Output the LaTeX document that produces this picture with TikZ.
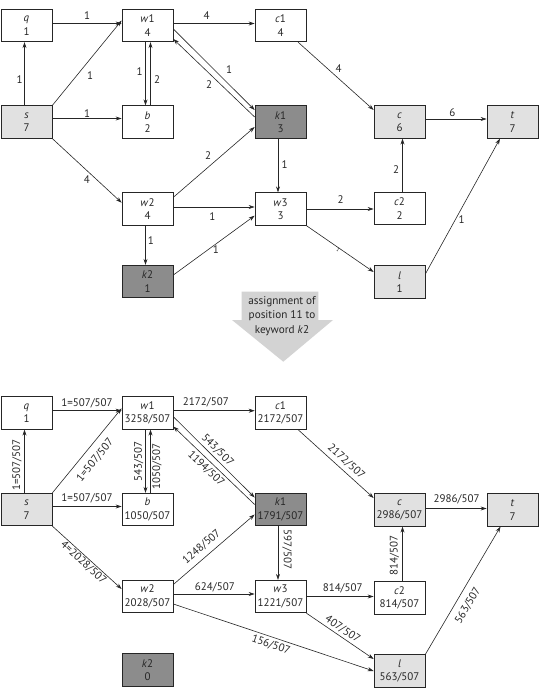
\documentclass[tikz,border=0pt]{standalone}
\usepackage{fontspec}
\setmainfont{PT Sans}
\usetikzlibrary{arrows.meta}
\definecolor{lightbox}{HTML}{E1E1E1}
\definecolor{darkbox}{HTML}{8C8C8C}
\definecolor{ink}{HTML}{262626}
\definecolor{banner}{HTML}{D3D3D3}

\begin{document}
\begin{tikzpicture}[x=1pt,y=-1pt,
  every node/.style={font=\fontsize{11}{13.5}\selectfont, text=ink},
  vbox/.style={draw=ink, line width=0.7pt, minimum width=51pt, minimum height=32.5pt,
               inner sep=0pt, align=center, fill=white},
  litebox/.style={vbox, fill=lightbox},
  darkvbox/.style={vbox, fill=darkbox},
  edge/.style={draw=ink, line width=0.6pt, -{Stealth[length=6pt,width=4pt]}},
  lbl/.style={inner sep=0pt}]

\useasboundingbox (0,0) rectangle (543,693);

% ---------- network before the assignment ----------
\node[vbox]     (q)  at (26.5,25.5)  {\textit{q}\\1};
\node[vbox]     (w1) at (147.5,25.5) {\textit{w}1\\4};
\node[vbox]     (c1) at (280.5,25.5) {\textit{c}1\\4};
\node[litebox]  (s)  at (26.5,122)   {\textit{s}\\7};
\node[vbox]     (b)  at (147.5,122)  {\textit{b}\\2};
\node[darkvbox] (k1) at (280.5,122)  {\textit{k}1\\3};
\node[litebox]  (c)  at (399.5,122)  {\textit{c}\\6};
\node[litebox]  (t)  at (512.5,122)  {\textit{t}\\7};
\node[vbox]     (w2) at (147.5,209)  {\textit{w}2\\4};
\node[vbox]     (w3) at (280.5,209)  {\textit{w}3\\3};
\node[vbox]     (c2) at (399.5,208.5){\textit{c}2\\2};
\node[darkvbox] (k2) at (147.5,281.5){\textit{k}2\\1};
\node[litebox]  (l)  at (399.5,282)  {\textit{l}\\1};

\draw[edge] ([yshift=2pt]q.east) -- node[lbl,pos=.5,yshift=7.6pt]{1} ([yshift=2pt]w1.west);
\draw[edge] ([yshift=2pt]w1.east) -- node[lbl,pos=.41,yshift=7.6pt]{4} ([yshift=2pt]c1.west);
\draw[edge] ([xshift=-2pt]s.north) -- node[lbl,pos=.4,xshift=-5pt]{1} ([xshift=-2pt]q.south);
\draw[edge] (s.north east) -- node[lbl,pos=.4,xshift=10pt,yshift=-4.2pt]{1} ([yshift=5pt]w1.west);
\draw[edge] ([yshift=3.5pt]s.east) -- node[lbl,pos=.5,yshift=5pt]{1} ([yshift=3.5pt]b.west);
\draw[edge] ([xshift=-2pt]w1.south) -- node[lbl,pos=.46,xshift=-6pt]{1} ([xshift=-2pt]b.north);
\draw[edge] ([xshift=3pt]b.north) -- node[lbl,pos=.4,xshift=6.5pt]{2} ([xshift=3pt]w1.south);
\draw[edge] ([yshift=-3.5pt]w1.east) -- node[lbl,pos=.6,xshift=7pt,yshift=7.6pt]{1} ([yshift=12pt]k1.west);
\draw[edge] ([yshift=5pt]k1.west) -- node[lbl,pos=.49,xshift=-5.8pt,yshift=-6pt]{2} ([yshift=-13.5pt]w1.east);
\draw[edge] ([xshift=17.5pt]c1.south) -- node[lbl,pos=.47,xshift=5pt,yshift=5pt]{4} ([yshift=12pt]c.west);
\draw[edge] ([yshift=3pt]c.east) -- node[lbl,pos=.44,yshift=6.7pt]{6} ([yshift=3pt]t.west);
\draw[edge] ([xshift=-2.5pt]k1.south) -- node[lbl,pos=.48,xshift=6.7pt]{1} ([xshift=-2.5pt]w3.north);
\draw[edge] (w3.east) -- node[lbl,pos=.51,yshift=9pt]{2} (w3.east -| c2.west);
\draw[edge] ([xshift=3pt]c2.north) -- node[lbl,pos=.42,xshift=-6.3pt]{2} ([xshift=3pt]c.south);
\draw[edge] (w3.south east) -- node[lbl,pos=.49,sloped,yshift=-2pt,font=\fontsize{5}{6}\selectfont]{1} ([yshift=10pt]l.west);
\draw[edge] ([yshift=8pt]l.east) -- node[lbl,pos=.42,xshift=4.8pt,yshift=-2.1pt]{1} ([xshift=-12.5pt]t.south);
\draw[edge] (s.south east) -- node[lbl,pos=.56,xshift=-4.3pt,yshift=-4.7pt]{4} ([yshift=6.3pt]w2.west);
\draw[edge] ([yshift=11.7pt]w2.east) -- node[lbl,pos=.5,xshift=-6pt,yshift=7pt]{2} ([yshift=-5pt]k1.west);
\draw[edge] ([yshift=2pt]w2.east) -- node[lbl,pos=.48,yshift=-10pt]{1} ([yshift=2pt]w3.west);
\draw[edge] ([xshift=-2pt]w2.south) -- node[lbl,pos=.39,xshift=5.3pt]{1} ([xshift=-2pt]k2.north);
\draw[edge] ([yshift=6.5pt]k2.east) -- node[lbl,pos=.49,xshift=2.8pt,yshift=-4pt]{1} ([yshift=-6.7pt]w3.west);

% ---------- transition arrow ----------
\fill[banner] (241.7,291.7) -- (318.3,291.7) -- (318.3,320) -- (333,320)
  -- (283.3,361.7) -- (232,320) -- (241.7,320) -- cycle;
\node[align=center, inner sep=0pt, font=\fontsize{11.2}{14.2}\selectfont] (note) at (282,316)
  {assignment of\\position 11 to\\keyword \textit{k}2};

% ---------- network after the assignment ----------
\node[vbox]     (qB)  at (26.5,413)   {\textit{q}\\1};
\node[vbox]     (w1B) at (147.5,413)  {\textit{w}1\\3258/507};
\node[vbox]     (c1B) at (280.5,413)  {\textit{c}1\\2172/507};
\node[litebox]  (sB)  at (26.5,509.5) {\textit{s}\\7};
\node[vbox]     (bB)  at (147.5,509.5){\textit{b}\\1050/507};
\node[darkvbox] (k1B) at (280.5,509.5){\textit{k}1\\1791/507};
\node[litebox]  (cB)  at (399.5,510)  {\textit{c}\\2986/507};
\node[litebox]  (tB)  at (512.5,510)  {\textit{t}\\7};
\node[vbox]     (w2B) at (147.5,596.5){\textit{w}2\\2028/507};
\node[vbox]     (w3B) at (280.5,596.5){\textit{w}3\\1221/507};
\node[vbox]     (c2B) at (399.5,598)  {\textit{c}2\\814/507};
\node[darkvbox] (k2B) at (147.5,670)  {\textit{k}2\\0};
\node[litebox]  (lB)  at (399.5,671)  {\textit{l}\\563/507};

\draw[edge] ([yshift=2.3pt]qB.east) -- node[lbl,pos=.5,yshift=7.4pt]{1=507/507} ([yshift=2.3pt]w1B.west);
\draw[edge] ([yshift=2.3pt]w1B.east) -- node[lbl,pos=.4,yshift=8pt]{2172/507} ([yshift=2.3pt]c1B.west);
\draw[edge] ([xshift=-2pt]sB.north) -- node[lbl,pos=.44,xshift=-7.6pt,rotate=90]{1=507/507} ([xshift=-2pt]qB.south);
\draw[edge] (sB.north east) -- node[lbl,pos=.48,sloped,below=7.5pt]{1=507/507} ([yshift=4.7pt]w1B.west);
\draw[edge] ([yshift=3pt]sB.east) -- node[lbl,pos=.5,yshift=8.4pt]{1=507/507} ([yshift=3pt]bB.west);
\draw[edge] ([xshift=-2pt]w1B.south) -- node[lbl,pos=.51,xshift=-6.7pt,rotate=90]{543/507} ([xshift=-2pt]bB.north);
\draw[edge] ([xshift=3pt]bB.north) -- node[lbl,pos=.42,xshift=6.6pt,rotate=90]{1050/507} ([xshift=3pt]w1B.south);
\draw[edge] ([yshift=-3.7pt]w1B.east) -- node[lbl,pos=.48,sloped,above=2.4pt]{543/507} ([yshift=12pt]k1B.west);
\draw[edge] ([yshift=5pt]k1B.west) -- node[lbl,pos=.53,sloped,below=3pt]{1194/507} ([yshift=-13.5pt]w1B.east);
\draw[edge] ([xshift=17.5pt]c1B.south) -- node[lbl,pos=.56,sloped,above=3.8pt]{2172/507} ([yshift=12pt]cB.west);
\draw[edge] ([yshift=1.5pt]cB.east) -- node[lbl,pos=.51,yshift=9pt]{2986/507} ([yshift=1.5pt]tB.west);
\draw[edge] ([xshift=-2.5pt]k1B.south) -- node[lbl,pos=.44,xshift=9pt,rotate=-90]{597/507} ([xshift=-2.5pt]w3B.north);
\draw[edge] (w3B.east) -- node[lbl,pos=.54,yshift=8pt]{814/507} (w3B.east -| c2B.west);
\draw[edge] ([xshift=3pt]c2B.north) -- node[lbl,pos=.48,xshift=-8pt,rotate=90]{814/507} ([xshift=3pt]cB.south);
\draw[edge] (w3B.south east) -- node[lbl,pos=.48,sloped,above=2pt]{407/507} ([yshift=12pt]lB.west);
\draw[edge] ([yshift=-7.5pt]w2B.east) -- node[lbl,pos=.5,sloped,below=3pt]{156/507} (lB.west);
\draw[edge] (lB.north east) -- node[lbl,pos=.43,sloped,below=7pt]{563/507} ([xshift=-12pt]tB.south);
\draw[edge] (sB.south east) -- node[lbl,pos=.51,sloped,below=1.3pt]{4=2028/507} ([yshift=7.5pt]w2B.west);
\draw[edge] ([yshift=12pt]w2B.east) -- node[lbl,pos=.43,sloped,above=5pt]{1248/507} ([yshift=-5pt]k1B.west);
\draw[edge] ([yshift=2.5pt]w2B.east) -- node[lbl,pos=.51,yshift=7pt]{624/507} ([yshift=2.5pt]w3B.west);

\end{tikzpicture}
\end{document}
